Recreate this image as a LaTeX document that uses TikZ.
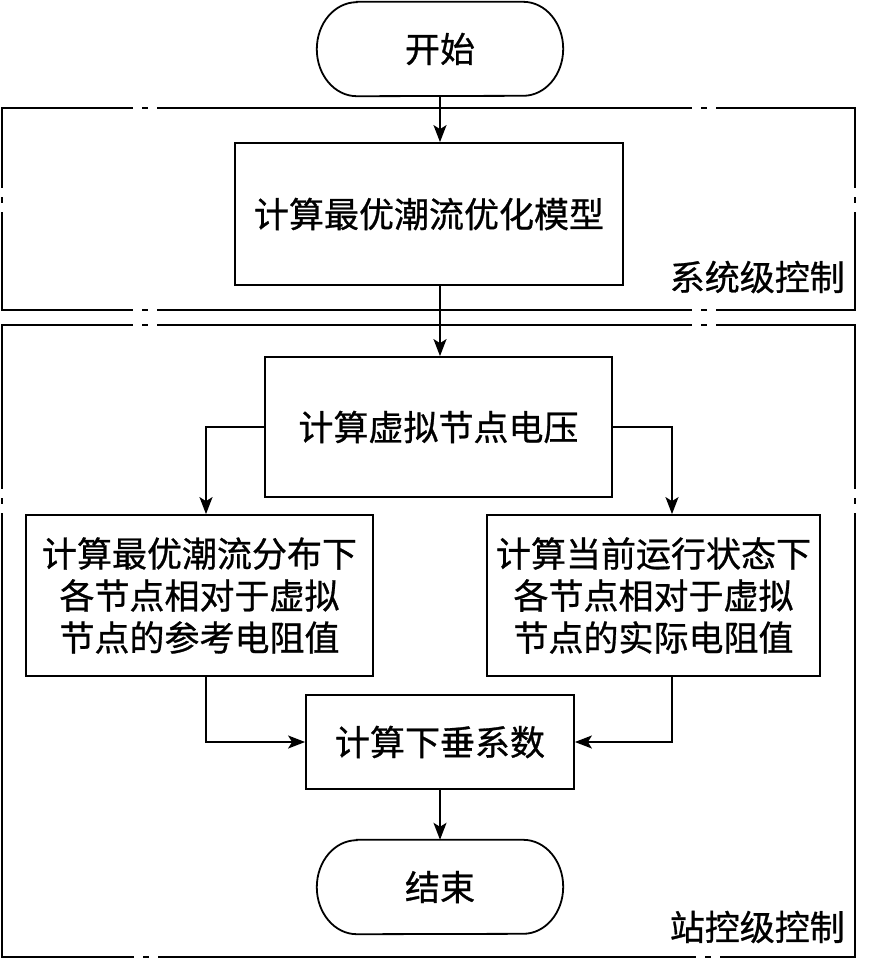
\documentclass[tikz,border=0pt]{standalone}
\usepackage{fontspec}
\setmainfont{Noto Sans CJK SC}[FakeBold=0.8]
\newfontfamily\cjkfont{Noto Sans CJK SC}[FakeBold=0.8]
\usetikzlibrary{arrows.meta}
\tikzset{
  box/.style={draw, line width=1.8pt, inner sep=0pt, align=center, font=\cjkfont\fontsize{35}{42}\selectfont},
  term/.style={inner sep=0pt, align=center, font=\cjkfont\fontsize{35}{42}\selectfont},
  tline/.style={line width=1.8pt},
  arr/.style={-{Stealth[length=17pt,width=13pt,inset=4pt]}, line width=1.8pt},
  frame/.style={line width=2.2pt},
  lbl/.style={inner sep=0pt, font=\cjkfont\fontsize{35}{42}\selectfont}
}
\newcommand\myhgap[2]{\fill[white] (#1-12,#2-3) rectangle (#1+12,#2+3); \draw[frame] (#1-3,#2) -- (#1+3,#2);}
\newcommand\myvgap[2]{\fill[white] (#1-3,#2-12) rectangle (#1+3,#2+12); \draw[frame] (#1,#2-3) -- (#1,#2+3);}
\begin{document}
\begin{tikzpicture}[x=1pt,y=-1pt]
\useasboundingbox (0,0) rectangle (870,970);
% frames
\draw[frame] (2,108) rectangle (855,310);
\draw[frame] (2,325) rectangle (855,957);
\myhgap{145}{108}\myhgap{704}{108}\myhgap{145}{310}\myhgap{704}{310}
\myvgap{2}{200}\myvgap{855}{200}
\myhgap{145}{325}\myhgap{704}{325}\myhgap{146}{957}\myhgap{708}{957}
\myvgap{2}{501}\myvgap{855}{501}
\node[lbl, anchor=east] (l1) at (845,277) {系统级控制};
\node[lbl, anchor=east] (l2) at (845,927) {站控级控制};
% nodes
\node[term, minimum width=246pt, minimum height=94pt] (start) at (440,49) {开始};
\draw[tline] ([xshift=40pt]start.north west) -- ([xshift=-40pt]start.north east)
  arc[start angle=90,end angle=-90,x radius=40pt,y radius=47pt]
  -- ([xshift=40pt]start.south west)
  arc[start angle=270,end angle=90,x radius=40pt,y radius=47pt] -- cycle;
\node[box, minimum width=388pt, minimum height=142pt] (model) at (429,214) {计算最优潮流优化模型};
\node[box, minimum width=347pt, minimum height=140pt] (vv) at (438.5,427) {计算虚拟节点电压};
\node[box, minimum width=347pt, minimum height=161pt] (L) at (199.5,595.5) {计算最优潮流分布下\\各节点相对于虚拟\\节点的参考电阻值};
\node[box, minimum width=333pt, minimum height=161pt] (R) at (653.5,595.5) {计算当前运行状态下\\各节点相对于虚拟\\节点的实际电阻值};
\node[box, minimum width=268pt, minimum height=94pt] (D) at (440,742) {计算下垂系数};
\node[term, minimum width=246pt, minimum height=94pt] (end) at (440,887) {结束};
\draw[tline] ([xshift=40pt]end.north west) -- ([xshift=-40pt]end.north east)
  arc[start angle=90,end angle=-90,x radius=40pt,y radius=47pt]
  -- ([xshift=40pt]end.south west)
  arc[start angle=270,end angle=90,x radius=40pt,y radius=47pt] -- cycle;
\coordinate (la) at (206,0);
\coordinate (ra) at (672,0);
% connectors
\draw[arr] (start.south) -- (start.south |- model.north);
\draw[arr] (model.south -| start.south) -- (vv.north -| start.south);
\draw[arr] (vv.west) -| (la |- L.north);
\draw[arr] (vv.east) -| (ra |- R.north);
\draw[arr] (la |- L.south) |- (D.west);
\draw[arr] (ra |- R.south) |- (D.east);
\draw[arr] (D.south) -- (end.north);
\end{tikzpicture}
\end{document}
